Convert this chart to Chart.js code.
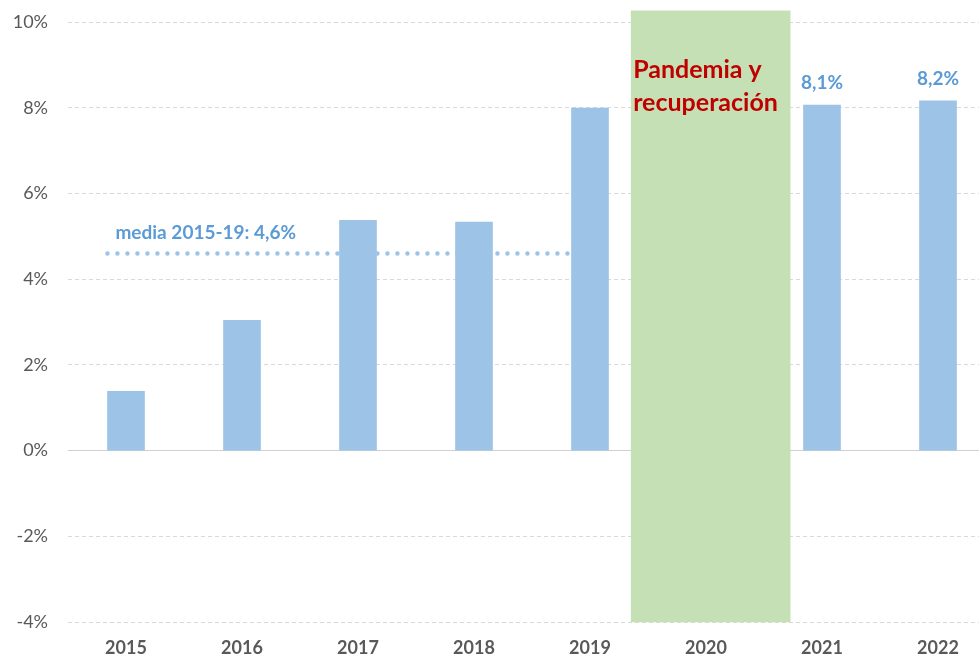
<!DOCTYPE html>
<html lang="es">
<head>
    <meta charset="UTF-8">
    <title>Crecimiento</title>
    <script src="https://cdn.jsdelivr.net/npm/chart.js@4"></script>
    <style>
        html, body { margin: 0; padding: 0; background: #fff; overflow: hidden }
        .box { width: 1000px; height: 658px; position: relative }
    </style>
</head>
<body>
<div class="box">
    <canvas id="growth-chart"></canvas>
</div>
<script>
    // datos
    const years = ['2015', '2016', '2017', '2018', '2019', '2020', '2021', '2022'];
    const growth = [1.38, 3.04, 5.37, 5.33, 7.99, null, 8.06, 8.16];
    const labelledYears = ['2021', '2022'];
    const avgValue = 4.6;
    const avgLabel = 'media 2015-19: 4,6%';
    const avgSpan = [-0.16, 3.84];          // en posiciones de categoria
    const pandemicSpan = [-4, 10.26];       // rango vertical de la franja
    const pandemicCenter = 5.04;            // posicion de categoria de la franja
    const pandemicText = ['Pandemia y', 'recuperación'];
    const yTicks = { min: -4, max: 10, step: 2 };

    const FONT = 'Lato, "Open Sans", sans-serif';
    const BLUE = '#9DC3E6';
    const BLUE_TEXT = '#5B9BD5';

    const fmt = v => v.toFixed(1).replace('.', ',') + '%';

    const notes = {
        id: 'notes',
        afterDatasetsDraw(chart) {
            const ctx = chart.ctx;
            const y = chart.scales.y, x2 = chart.scales.x2;
            const bars = chart.getDatasetMeta(0).data;
            ctx.save();
            ctx.textBaseline = 'middle';

            ctx.fillStyle = BLUE_TEXT;
            ctx.font = 'bold 19px ' + FONT;
            ctx.textAlign = 'center';
            labelledYears.forEach(yr => {
                const i = years.indexOf(yr);
                const el = bars[i];
                ctx.fillText(fmt(growth[i]), el.x, el.y - 22);
            });

            ctx.textAlign = 'left';
            ctx.fillText(avgLabel, x2.getPixelForValue(avgSpan[0]) + 8, y.getPixelForValue(avgValue) - 21);

            const green = chart.getDatasetMeta(2).data[0];
            const gl = green.x - green.width / 2;
            ctx.fillStyle = '#C00000';
            ctx.font = 'bold 25px ' + FONT;
            ctx.fillText(pandemicText[0], gl + 2, y.getPixelForValue(8.88));
            ctx.fillText(pandemicText[1], gl + 2, y.getPixelForValue(8.1));
            ctx.restore();
        }
    };

    new Chart(document.getElementById('growth-chart'), {
        type: 'bar',
        data: {
            labels: years,
            datasets: [{
                label: 'Crecimiento',
                data: growth,
                backgroundColor: BLUE,
                barThickness: 37,
                grouped: false,
                order: 0
            }, {
                type: 'line',
                label: 'media',
                xAxisID: 'x2',
                data: avgSpan.map(v => ({ x: v, y: avgValue })),
                borderColor: BLUE,
                borderWidth: 4.5,
                borderDash: [0, 10],
                borderCapStyle: 'round',
                pointRadius: 0,
                fill: false,
                order: 1
            }, {
                label: 'Pandemia',
                xAxisID: 'x2',
                data: [{ x: pandemicCenter, y: pandemicSpan }],
                backgroundColor: '#C5E0B4',
                barThickness: 159,
                grouped: false,
                clip: false,
                order: 2
            }]
        },
        options: {
            responsive: true,
            maintainAspectRatio: false,
            animation: false,
            layout: { padding: { top: 22, right: 4, left: 0, bottom: 0 } },
            plugins: {
                legend: { display: false },
                tooltip: { enabled: false }
            },
            scales: {
                x: {
                    offset: true,
                    grid: { display: false, drawTicks: false },
                    border: { display: false },
                    ticks: {
                        padding: 15,
                        color: '#595959',
                        font: { family: FONT, size: 18, weight: 'bold' }
                    },
                    afterFit: s => { s.height = 36; }
                },
                x2: {
                    type: 'linear',
                    display: false,
                    offset: false,
                    grid: { offset: false },
                    min: -0.5,
                    max: 7.5
                },
                y: {
                    min: yTicks.min,
                    max: yTicks.max,
                    border: {
                        display: false,
                        dash: c => (c.tick && c.tick.value === 0) ? [] : [4, 3]
                    },
                    grid: {
                        drawTicks: false,
                        color: c => (c.tick && c.tick.value === 0) ? '#D0D0D0' : '#D9D9D9',
                        lineWidth: 1
                    },
                    ticks: {
                        stepSize: yTicks.step,
                        padding: 20,
                        color: '#595959',
                        font: { family: FONT, size: 18 },
                        callback: v => v + '%'
                    },
                    afterFit: s => {
                        s.width = 68;
                        s.paddingTop = 0;
                        s.paddingBottom = 0;
                    }
                }
            }
        },
        plugins: [notes]
    });
</script>
</body>
</html>
